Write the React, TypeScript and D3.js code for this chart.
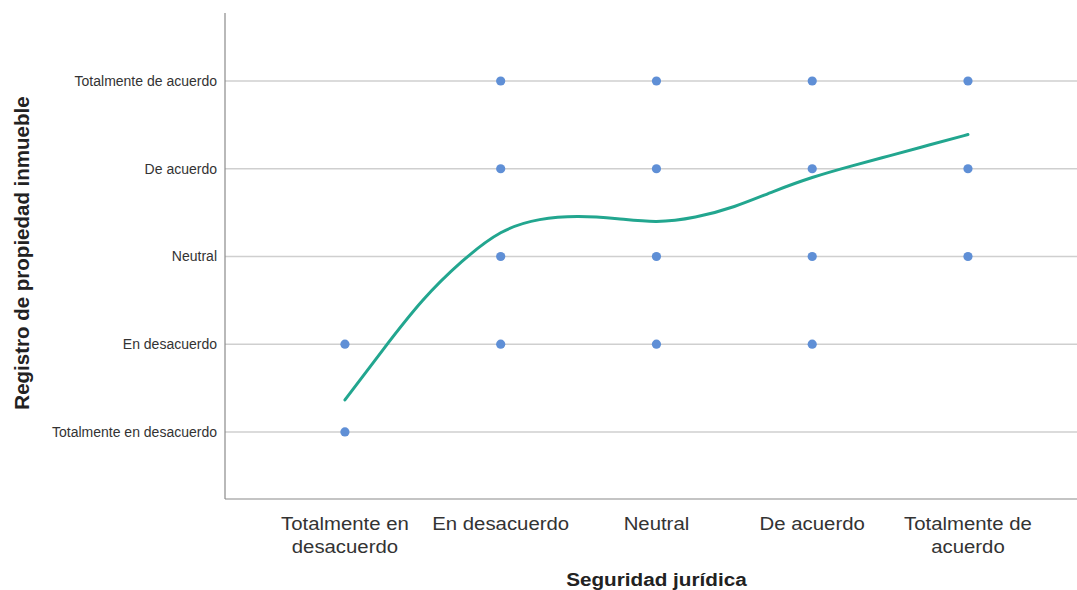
import React from "react";
import * as d3 from "d3";

const categoryLabels = [
  "Totalmente en desacuerdo",
  "En desacuerdo",
  "Neutral",
  "De acuerdo",
  "Totalmente de acuerdo",
];
const xTickLines = [
  ["Totalmente en", "desacuerdo"],
  ["En desacuerdo"],
  ["Neutral"],
  ["De acuerdo"],
  ["Totalmente de", "acuerdo"],
];
const xTitle = "Seguridad jurídica";
const yTitle = "Registro de propiedad inmueble";

// observed combinations (x = Seguridad jurídica, y = Registro de propiedad inmueble)
const pointX = [1, 1, 2, 2, 2, 2, 3, 3, 3, 3, 4, 4, 4, 4, 5, 5, 5];
const pointY = [1, 2, 2, 3, 4, 5, 2, 3, 4, 5, 2, 3, 4, 5, 3, 4, 5];

// loess fit line
const fitX = [1, 1.25, 1.5, 1.75, 2, 2.25, 2.5, 2.75, 3, 3.25, 3.5, 3.75, 4, 4.25, 4.5, 4.75, 5];
const fitY = [1.365, 1.95, 2.5, 2.94, 3.27, 3.42, 3.455, 3.43, 3.4, 3.45, 3.57, 3.74, 3.9, 4.03, 4.15, 4.27, 4.39];

const W = 1077;
const H = 590;
const left = 225;
const right = 1077;
const top = 13;
const bottom = 499;

export default function App() {
  const x = d3.scaleLinear().domain([0.23, 5.7]).range([left, right]);
  const y = d3.scaleLinear().domain([0.236, 5.775]).range([bottom, top]);
  const line = d3
    .line<number>()
    .x((_, i) => x(fitX[i]))
    .y((d) => y(d))
    .curve(d3.curveNatural);

  return (
    <svg
      width={W}
      height={H}
      style={{ position: "absolute", left: 0, top: 0, background: "#fff" }}
      fontFamily="'Liberation Sans', Arial, sans-serif"
    >
      {categoryLabels.map((lab, i) => (
        <g key={lab}>
          <line
            x1={left}
            x2={right}
            y1={y(i + 1)}
            y2={y(i + 1)}
            stroke="#cfcfcf"
            strokeWidth={1.5}
          />
          <text
            x={left - 8}
            y={y(i + 1)}
            dy="0.35em"
            textAnchor="end"
            fontSize={14}
            fill="#333"
          >
            {lab}
          </text>
        </g>
      ))}
      <line x1={left} x2={left} y1={top} y2={bottom} stroke="#8a8a8a" strokeWidth={1.2} />
      <line x1={left} x2={right} y1={bottom} y2={bottom} stroke="#8a8a8a" strokeWidth={1.2} />
      {xTickLines.map((lines, i) => (
        <text
          key={i}
          x={x(i + 1)}
          y={bottom + 31}
          textAnchor="middle"
          fontSize={18.5}
          fill="#333"
          transform={`translate(${x(i + 1)},0) scale(1.1,1) translate(${-x(i + 1)},0)`}
        >
          {lines.map((l, j) => (
            <tspan key={j} x={x(i + 1)} dy={j === 0 ? 0 : 23}>
              {l}
            </tspan>
          ))}
        </text>
      ))}
      <text
        x={x(3)}
        y={586}
        textAnchor="middle"
        fontSize={19}
        fontWeight="bold"
        fill="#222"
        transform={`translate(${x(3)},0) scale(1.09,1) translate(${-x(3)},0)`}
      >
        {xTitle}
      </text>
      <text
        transform={`translate(29, ${(top + bottom) / 2 - 3}) rotate(-90)`}
        textAnchor="middle"
        fontSize={20.5}
        fontWeight="bold"
        fill="#222"
      >
        {yTitle}
      </text>
      {pointX.map((px, i) => (
        <circle key={i} cx={x(px)} cy={y(pointY[i])} r={4.6} fill="#5f8fd6" />
      ))}
      <path d={line(fitY) || ""} fill="none" stroke="#22a68f" strokeWidth={3} strokeLinecap="round" />
    </svg>
  );
}
